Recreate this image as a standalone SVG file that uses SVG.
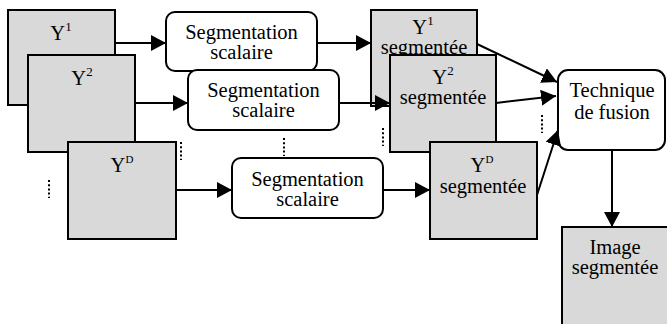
<svg xmlns="http://www.w3.org/2000/svg" width="667" height="324" viewBox="0 0 667 324">
  <style>
    .img { fill: #d9d9d9; stroke: #000; stroke-width: 2; }
    .proc { fill: #fff; stroke: #000; stroke-width: 2; }
    text { font-family: 'Liberation Serif', 'Times New Roman', serif; font-size: 20.5px; fill: #000; text-anchor: middle; }
    .sup { font-size: 13px; }
    .supd { font-size: 11px; }
    .edge { stroke: #000; stroke-width: 2; fill: none; marker-end: url(#head); }
    .dots { stroke: #000; stroke-width: 2; stroke-dasharray: 2 2.2; fill: none; }
  </style>
  <defs>
    <marker id="head" markerUnits="userSpaceOnUse" markerWidth="16" markerHeight="16" refX="15" refY="8" orient="auto">
      <path d="M0,0 L15,8 L0,16 Z" fill="#000"/>
    </marker>
  </defs>
  <rect width="667" height="324" fill="#fff"/>

  <!-- input images -->
  <g id="y1">
    <rect class="img" x="8" y="10" width="107" height="95"/>
    <text x="61" y="40">Y<tspan class="sup" dy="-9">1</tspan></text>
  </g>
  <g id="y2">
    <rect class="img" x="28" y="55" width="107" height="97"/>
    <text x="82" y="85">Y<tspan class="sup" dy="-9">2</tspan></text>
  </g>
  <g id="yd">
    <rect class="img" x="68" y="142" width="108" height="97"/>
    <text x="122" y="172">Y<tspan class="supd" dy="-9">D</tspan></text>
  </g>

  <!-- scalar segmentation blocks -->
  <g id="seg1">
    <rect class="proc" x="166" y="12" width="151" height="59" rx="9"/>
    <text x="241.5" y="39">Segmentation</text>
    <text x="241.5" y="59">scalaire</text>
  </g>
  <g id="seg2">
    <rect class="proc" x="188" y="70" width="151" height="60" rx="9"/>
    <text x="263.5" y="97">Segmentation</text>
    <text x="263.5" y="117">scalaire</text>
  </g>
  <g id="segd">
    <rect class="proc" x="232" y="158" width="151" height="60" rx="9"/>
    <text x="307.5" y="186">Segmentation</text>
    <text x="307.5" y="206">scalaire</text>
  </g>

  <!-- segmented images -->
  <g id="y1seg">
    <rect class="img" x="371" y="10" width="106" height="96"/>
    <text x="423" y="34">Y<tspan class="sup" dy="-9">1</tspan></text>
    <text x="424" y="54">segmentée</text>
  </g>
  <g id="y2seg">
    <rect class="img" x="390" y="55" width="106" height="97"/>
    <text x="443" y="84">Y<tspan class="sup" dy="-9">2</tspan></text>
    <text x="443" y="104">segmentée</text>
  </g>
  <g id="ydseg">
    <rect class="img" x="430" y="142" width="107" height="97"/>
    <text x="482" y="172">Y<tspan class="supd" dy="-9">D</tspan></text>
    <text x="483" y="193">segmentée</text>
  </g>

  <!-- fusion and result -->
  <g id="fusion">
    <rect class="proc" x="558" y="70" width="107" height="80" rx="10"/>
    <text x="612" y="97">Technique</text>
    <text x="612" y="119">de fusion</text>
  </g>
  <g id="result">
    <rect class="img" x="562" y="227" width="106" height="110"/>
    <text x="615" y="254">Image</text>
    <text x="615" y="274">segmentée</text>
  </g>

  <!-- connectors -->
  <g id="connectors">
    <line class="edge" x1="115" y1="43" x2="166" y2="43"/>
    <line class="edge" x1="135" y1="103" x2="188" y2="103"/>
    <line class="edge" x1="176" y1="190" x2="232" y2="190"/>
    <line class="edge" x1="317" y1="43" x2="371" y2="43"/>
    <line class="edge" x1="339" y1="103" x2="390" y2="103"/>
    <line class="edge" x1="383" y1="190" x2="430" y2="190"/>
    <line class="edge" x1="477" y1="44" x2="557" y2="82"/>
    <line class="edge" x1="496" y1="103" x2="556" y2="96"/>
    <line class="edge" x1="537" y1="195" x2="558" y2="130"/>
    <line class="edge" x1="612" y1="150" x2="612" y2="227"/>
  </g>

  <!-- ellipsis marks for the omitted channels -->
  <g id="ellipses">
    <line class="dots" x1="49" y1="180" x2="49" y2="198"/>
    <line class="dots" x1="181" y1="142" x2="181" y2="160"/>
    <line class="dots" x1="284" y1="138" x2="284" y2="156"/>
    <line class="dots" x1="383" y1="128" x2="383" y2="146"/>
    <line class="dots" x1="542" y1="115" x2="542" y2="133"/>
  </g>
</svg>
